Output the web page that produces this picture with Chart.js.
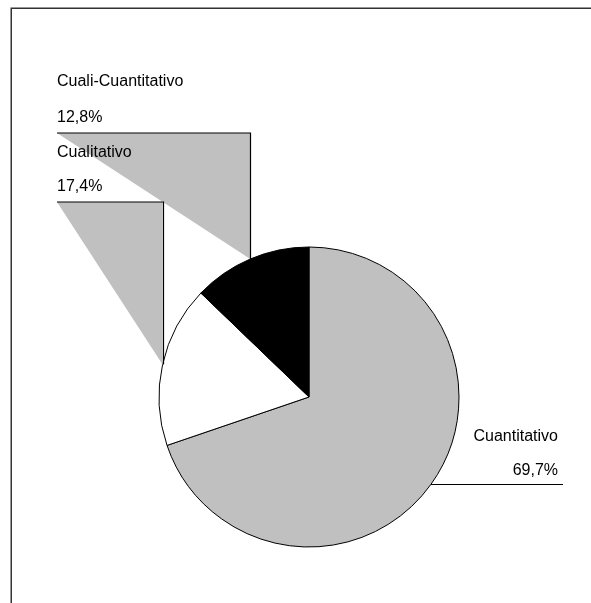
<!DOCTYPE html>
<html>
<head>
<meta charset="utf-8">
<script src="https://cdn.jsdelivr.net/npm/chart.js@4/dist/chart.umd.min.js"></script>
<style>
  html, body { margin: 0; padding: 0; background: #fff; }
  #wrap { width: 591px; height: 603px; position: relative; }
</style>
</head>
<body>
<div id="wrap"><canvas id="c" width="591" height="603"></canvas></div>
<script>
const categories = ['Cuantitativo', 'Cualitativo', 'Cuali-Cuantitativo'];
const values = [69.7, 17.4, 12.8];
const valueLabels = ['69,7%', '17,4%', '12,8%'];
const colors = ['#c0c0c0', '#ffffff', '#000000'];

// callout layout (label text positions)
const callouts = [
  { side: 'right', textX: 558, nameY: 437, pctY: 471, lineY: null, lineEnd: 563 },
  { side: 'left', textX: 57, nameY: 153, pctY: 187, lineY: 202 },
  { side: 'left', textX: 57, nameY: 82, pctY: 118, lineY: 133 }
];

const FONT = '16px "Liberation Sans", Arial, sans-serif';

const calloutPlugin = {
  id: 'callouts',
  beforeDatasetsDraw(chart) {
    const ctx = chart.ctx;
    ctx.save();
    // frame
    ctx.strokeStyle = '#333';
    ctx.lineWidth = 1.5;
    ctx.beginPath();
    ctx.moveTo(11.25, 603);
    ctx.lineTo(11.25, 8.25);
    ctx.lineTo(591, 8.25);
    ctx.stroke();
    ctx.restore();
  },
  afterDatasetsDraw(chart) {
    const ctx = chart.ctx;
    const meta = chart.getDatasetMeta(0);
    ctx.save();
    const anchors = meta.data.map(arc => {
      const p = arc.getProps(['x', 'y', 'startAngle', 'endAngle', 'outerRadius'], true);
      const mid = (p.startAngle + p.endAngle) / 2;
      return { x: p.x + Math.cos(mid) * p.outerRadius, y: p.y + Math.sin(mid) * p.outerRadius };
    });
    // left callout triangles first
    callouts.forEach((c, i) => {
      if (c.side !== 'left') return;
      const a = anchors[i];
      ctx.fillStyle = '#c0c0c0';
      ctx.beginPath();
      ctx.moveTo(c.textX, c.lineY);
      ctx.lineTo(a.x, c.lineY);
      ctx.lineTo(a.x, a.y);
      ctx.closePath();
      ctx.fill();
    });
    ctx.strokeStyle = '#000';
    ctx.lineWidth = 1.2;
    callouts.forEach((c, i) => {
      const a = anchors[i];
      ctx.beginPath();
      if (c.side === 'left') {
        ctx.moveTo(c.textX, c.lineY);
        ctx.lineTo(Math.round(a.x) + 0.5, c.lineY);
        ctx.lineTo(Math.round(a.x) + 0.5, a.y);
      } else {
        const y = Math.round(a.y) + 0.5;
        ctx.moveTo(a.x, y);
        ctx.lineTo(c.lineEnd, y);
      }
      ctx.stroke();
    });
    ctx.fillStyle = '#000';
    ctx.font = FONT;
    ctx.textBaseline = 'middle';
    callouts.forEach((c, i) => {
      ctx.textAlign = c.side === 'left' ? 'left' : 'right';
      ctx.fillText(categories[i], c.textX, c.nameY);
      ctx.fillText(valueLabels[i], c.textX, c.pctY);
    });
    ctx.restore();
  }
};

new Chart(document.getElementById('c'), {
  type: 'pie',
  data: {
    labels: categories,
    datasets: [{
      data: values,
      backgroundColor: colors,
      borderColor: '#000',
      borderWidth: 1,
      borderAlign: 'center'
    }]
  },
  options: {
    responsive: false,
    animation: false,
    radius: 150,
    layout: { padding: { left: 27, right: 0, top: 191, bottom: 0 } },
    plugins: {
      legend: { display: false },
      tooltip: { enabled: false }
    }
  },
  plugins: [calloutPlugin]
});
</script>
</body>
</html>
